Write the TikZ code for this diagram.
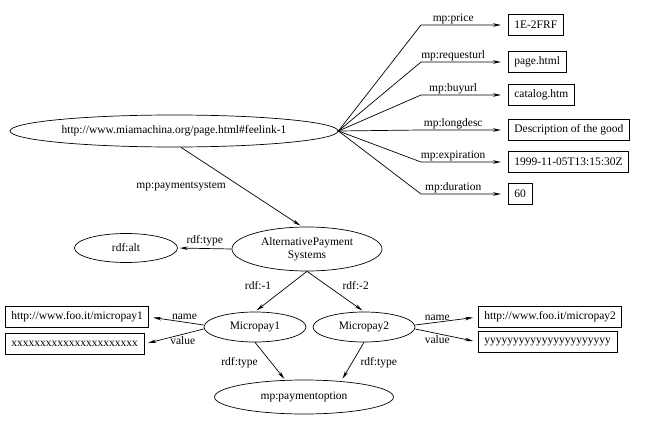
\documentclass[tikz,border=0pt]{standalone}
\usepackage{fontspec}
\setmainfont{Liberation Serif}
\usetikzlibrary{shapes.geometric, arrows.meta}
\tikzset{
    >={Stealth[length=8pt,width=3.5pt]}, % Narrow filled arrowheads
    every node/.style={font=\fontsize{11.5}{12.5}\selectfont},
    res/.style={ellipse, draw, inner sep=0pt}, % RDF resources
    lit/.style={rectangle, draw, minimum height=21pt, inner xsep=6pt}, % Literal values
    link/.style={->, shorten >=#1}, % Property edges
    link/.default=2pt,
}

\begin{document}
\begin{tikzpicture}[x=1pt, y=-1pt, line width=0.7pt]
    \useasboundingbox (0,0) rectangle (649,423);

    \node[res, minimum width=328pt, minimum height=32pt] (page) at (174,131) {http://www.miamachina.org/page.html\#feelink-1};
    \node[res, minimum width=150pt, minimum height=44pt, align=center] (aps) at (307,249) {AlternativePayment\\Systems};
    \node[res, minimum width=103pt, minimum height=29pt] (alt) at (126,248) {rdf:alt};
    \node[res, minimum width=102pt, minimum height=30pt] (mp1) at (255,327) {Micropay1};
    \node[res, minimum width=102pt, minimum height=30pt] (mp2) at (364,327) {Micropay2};
    \node[res, minimum width=179pt, minimum height=34pt] (option) at (304,397) {mp:paymentoption};

    \node[lit, anchor=west] (price) at (508,25) {1E-2FRF};
    \node[lit, anchor=west] (requesturl) at (508,62) {page.html};
    \node[lit, anchor=west] (buyurl) at (508,95) {catalog.htm};
    \node[lit, anchor=west] (longdesc) at (508,130) {Description of the good};
    \node[lit, anchor=west] (expiration) at (508,162) {1999-11-05T13:15:30Z};
    \node[lit, anchor=west] (duration) at (508,194) {60};

    \node[lit, anchor=west] (name1) at (5,317) {http://www.foo.it/micropay1};
    \node[lit, anchor=west] (value1) at (5,344) {xxxxxxxxxxxxxxxxxxxxxx};
    \node[lit, anchor=west] (name2) at (478,317) {http://www.foo.it/micropay2};
    \node[lit, anchor=west] (value2) at (478,342) {yyyyyyyyyyyyyyyyyyyyyy};

    % properties of the page
    \foreach \n in {price, requesturl, buyurl, longdesc, expiration, duration}
        \draw[link=7pt] (page.east) -- (421,0 |- \n.west) -- node[above, pos=0.37, inner sep=1pt] {mp:\n} (\n.west);

    \draw[link] ([xshift=7pt]page.south) -- node[left=12pt] {mp:paymentsystem} ([xshift=-5pt]aps.north);
    \draw[link] (aps.west) -- node[above, inner sep=2pt] {rdf:type} (alt.east);
    \draw[link] (aps.south) -- node[pos=0.35, left=14pt] {rdf:-1} (mp1.north);
    \draw[link] (aps.south) -- node[pos=0.35, right=12pt] {rdf:-2} (mp2.north);

    \draw[link=4pt] ([yshift=2pt]mp1.west) -- node[pos=0.35, above, inner sep=2pt] {name} (name1.east);
    \draw[link=4pt] ([yshift=-2pt]mp1.west) -- node[pos=0.35, below, inner sep=2pt] {value} (value1.east);
    \draw[link=5pt] ([yshift=2pt]mp2.east) -- node[pos=0.35, above, inner sep=1pt] {name} (name2.west);
    \draw[link=5pt] ([yshift=-2pt]mp2.east) -- node[pos=0.35, below, inner sep=2pt] {value} (value2.west);

    \draw[link=1pt] (mp1.south) -- node[pos=0.55, left=10pt] {rdf:type} ([xshift=-19pt]option.north);
    \draw[link=1pt] (mp2.south) -- node[pos=0.55, right=5pt] {rdf:type} ([xshift=38pt]option.north);
\end{tikzpicture}
\end{document}
